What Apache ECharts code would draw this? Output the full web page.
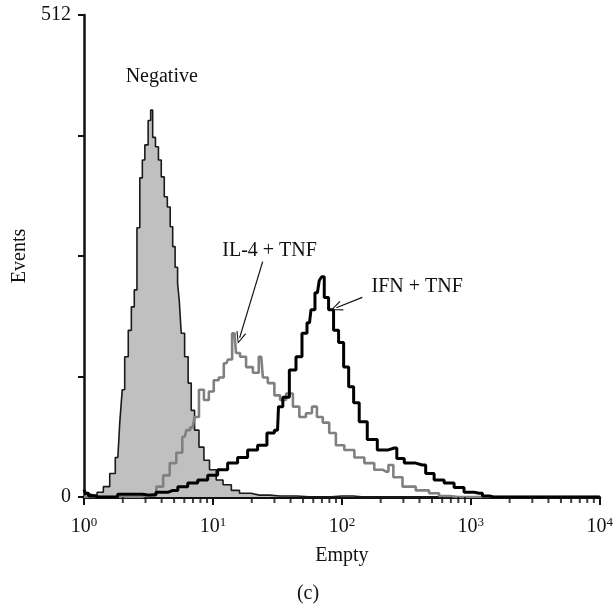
<!DOCTYPE html>
<html>
<head>
<meta charset="utf-8">
<script src="https://cdn.jsdelivr.net/npm/echarts@6/dist/echarts.min.js"></script>
<style>
html,body{margin:0;padding:0;background:#fff;}
#chart{width:616px;height:604px;}
</style>
</head>
<body>
<div id="chart"></div>
<script>
// Fluorescence intensity (log) vs events
const xTicks = [1, 10, 100, 1000, 10000];
const xMinorTicks = [2,3,4,5,6,7,8,9,20,30,40,50,60,70,80,90,200,300,400,500,600,700,800,900,2000,3000,4000,5000,6000,7000,8000,9000];
const yTickLabels = [0, 512];

const negativeData = [
  [1.0, 0], [1.05, 3], [1.2, 2], [1.33, 5], [1.50, 11], [1.67, 25], [1.83, 42], [1.96, 79],
  [2.00, 114], [2.14, 149], [2.27, 177], [2.39, 202], [2.52, 220], [2.63, 286],
  [2.79, 339], [2.88, 358], [3.05, 374], [3.24, 400], [3.34, 411], [3.48, 382],
  [3.69, 372], [3.87, 358], [4.08, 340], [4.31, 319], [4.55, 308], [4.78, 287],
  [4.97, 266], [5.21, 244], [5.43, 227], [5.53, 209], [5.83, 174], [6.24, 149],
  [6.61, 121], [6.97, 92], [7.45, 71], [8.15, 53], [8.89, 39], [9.95, 29],
  [11.3, 18], [12.7, 13], [15.2, 7], [17.0, 4], [22.9, 2], [33.1, 1], [60, 0],
  [100, 1], [150, 0], [10000, 0]
];

const il4Data = [
  [1.0, 0], [2.5, 0], [3.0, 1], [3.42, 3], [3.87, 11], [4.37, 23], [4.89, 36], [5.53, 47],
  [6.05, 64], [6.38, 71], [6.97, 74], [7.45, 85], [8.15, 114], [8.89, 103],
  [9.72, 112], [10.6, 124], [11.6, 127], [12.7, 142], [13.5, 146], [14.7, 174],
  [15.5, 153], [17.0, 149], [19.2, 138], [21.7, 132], [23.7, 149], [25.1, 127],
  [28.3, 121], [31.7, 108], [34.7, 103], [39.3, 110], [44.3, 96], [49.4, 85],
  [56.1, 89], [61.2, 96], [67.0, 85], [75.5, 79], [84.3, 68], [95.7, 55],
  [114, 50], [137, 42], [163, 36], [195, 29], [220, 27], [240, 34], [262, 21],
  [333, 11], [420, 7], [536, 4], [600, 1], [800, 0], [10000, 0]
];

const ifnData = [
  [1.0, 8], [1.05, 4], [1.12, 1], [1.3, 0], [2.56, 3], [3.2, 2], [4.08, 5], [4.89, 7],
  [5.83, 11], [6.97, 15], [8.34, 18], [9.95, 23], [11.9, 29], [14.2, 36],
  [17.0, 42], [20.3, 50], [24.3, 55], [28.3, 68], [31.7, 71], [32.8, 96],
  [37.0, 106], [41.4, 135], [46.9, 149], [51.3, 174], [56.1, 185], [59.2, 199],
  [64.6, 217], [69.0, 230], [70.6, 234], [75.5, 212], [82.4, 199], [90.2, 177],
  [98.6, 164], [108, 138], [118, 117], [129, 100], [144, 80], [172, 61],
  [206, 50], [255, 52], [279, 41], [333, 36], [420, 34], [475, 25], [568, 18],
  [679, 15], [811, 10], [968, 5], [1160, 4], [1306, 1], [1500, 0], [10000, 0]
];

const annotations = [
  { name: 'Negative', coord: [4.01, 446] },
  { name: 'IL-4 + TNF', coord: [27.5, 262] },
  { name: 'IFN + TNF', coord: [384, 223] }
];
const arrows = [
  { from: [24.3, 250], to: [16.1, 169] },
  { from: [144, 212], to: [90.6, 201] }
];

const FONT = 'Liberation Serif';
const chevron = 'path://M5,0 L10,12 L9,12.6 L5,2.4 L1,12.6 L0,12 Z';

const chart = echarts.init(document.getElementById('chart'), null, { renderer: 'canvas' });

chart.setOption({
  animation: false,
  backgroundColor: '#fff',
  grid: { left: 84, right: 15, top: 15, bottom: 107, containLabel: false },
  xAxis: {
    type: 'log', logBase: 10, min: 1, max: 10000,
    name: 'Empty', nameLocation: 'middle', nameGap: 49,
    nameTextStyle: { fontFamily: FONT, fontSize: 20, color: '#111' },
    axisLine: { show: true, onZero: false, lineStyle: { color: '#111', width: 3 } },
    axisTick: { show: true, length: 8, lineStyle: { color: '#111', width: 2 } },
    splitLine: { show: false },
    axisLabel: {
      margin: 19,
      formatter: function (v) {
        const e = Math.round(Math.log10(v));
        return '{b|10}{s|' + e + '}';
      },
      rich: {
        b: { fontFamily: FONT, fontSize: 20, color: '#111', lineHeight: 22 },
        s: { fontFamily: FONT, fontSize: 13, color: '#111', verticalAlign: 'top', lineHeight: 12 }
      }
    }
  },
  yAxis: {
    type: 'value', min: 0, max: 512, interval: 128,
    name: 'Events', nameLocation: 'middle', nameGap: 52, nameRotate: 90,
    nameTextStyle: { fontFamily: FONT, fontSize: 20, color: '#111' },
    axisLine: { show: true, lineStyle: { color: '#111', width: 2.5 } },
    axisTick: { show: true, length: 6, lineStyle: { color: '#111', width: 2 } },
    splitLine: { show: false },
    axisLabel: {
      margin: 13, fontFamily: FONT, fontSize: 20, color: '#111',
      formatter: function (v) { return yTickLabels.indexOf(v) >= 0 ? String(v) : ''; }
    }
  },
  graphic: [{
    type: 'text', left: 'center', top: 584,
    style: { text: '(c)', font: '20px "Liberation Serif"', fill: '#111' }
  }],
  series: [
    {
      name: 'Negative', type: 'line', data: negativeData, step: 'middle',
      showSymbol: false, symbol: 'none',
      lineStyle: { color: '#1a1a1a', width: 1.6 },
      areaStyle: { color: '#c0c0c0', opacity: 1 },
      z: 2,
      markPoint: {
        symbol: 'circle', symbolSize: 1, itemStyle: { color: 'rgba(0,0,0,0)' },
        label: { show: true, position: 'inside', formatter: '{b}', fontFamily: FONT, fontSize: 20, color: '#111' },
        data: annotations.map(a => ({ name: a.name, coord: a.coord }))
      }
    },
    {
      name: 'IL-4 + TNF', type: 'line', data: il4Data, step: 'middle',
      showSymbol: false, symbol: 'none',
      lineStyle: { color: '#808080', width: 2.6 },
      z: 3
    },
    {
      name: 'IFN + TNF', type: 'line', data: ifnData, step: 'middle',
      showSymbol: false, symbol: 'none',
      lineStyle: { color: '#000', width: 3 },
      z: 4,
      markLine: {
        silent: true,
        symbol: ['none', chevron], symbolSize: [10, 12],
        label: { show: false },
        lineStyle: { color: '#111', width: 1.2, type: 'solid' },
        data: arrows.map(a => [{ coord: a.from }, { coord: a.to }])
      }
    },
    {
      name: 'minorTicks', type: 'scatter', data: xMinorTicks.map(v => [v, 0]),
      symbol: 'rect', symbolSize: [2, 6], symbolOffset: [0, 3],
      itemStyle: { color: '#111' }, clip: false, silent: true, z: 5
    }
  ]
});
</script>
</body>
</html>
